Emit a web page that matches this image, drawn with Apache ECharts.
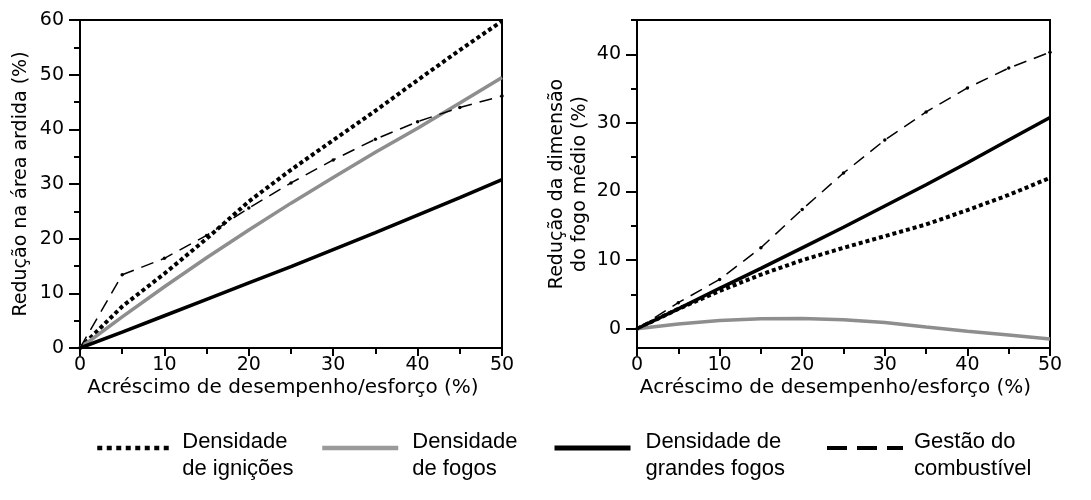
<!DOCTYPE html>
<html>
<head>
<meta charset="utf-8">
<script src="https://cdn.jsdelivr.net/npm/echarts@6/dist/echarts.min.js"></script>
<style>html,body{margin:0;padding:0;background:#fff}#c{width:1091px;height:500px}</style>
</head>
<body>
<div id="c"></div>
<script>
const xValues = [0, 5, 10, 15, 20, 25, 30, 35, 40, 45, 50];
const seriesNames = ['Densidade\nde ignições', 'Densidade\nde fogos', 'Densidade de\ngrandes fogos', 'Gestão do\ncombustível'];
const xTickLabels = [0, 10, 20, 30, 40, 50];
const rightYLabels = [0, 10, 20, 30, 40];
const rightYMinor = [5, 15, 25, 35, 45];

// Left panel: Redução na área ardida (%)
const leftIgnicoes = [0, 7.6, 13.6, 20.0, 26.8, 32.6, 38.0, 43.4, 49.0, 54.5, 59.8];
const leftFogos = [0, 5.7, 11.2, 16.5, 21.6, 26.5, 31.2, 35.8, 40.2, 44.8, 49.5];
const leftGrandes = [0, 2.9, 5.9, 8.9, 11.9, 14.9, 18.0, 21.1, 24.3, 27.5, 30.8];
const leftCombust = [0, 13.4, 16.4, 20.6, 25.6, 30.2, 34.4, 38.2, 41.4, 44.0, 46.1];

// Right panel: Redução da dimensão do fogo médio (%)
const rightIgnicoes = [0, 2.9, 5.5, 7.9, 10.0, 11.8, 13.5, 15.2, 17.3, 19.5, 22.0];
const rightFogos = [0, 0.7, 1.2, 1.45, 1.5, 1.3, 0.9, 0.25, -0.35, -0.9, -1.5];
const rightGrandes = [0, 2.9, 5.9, 8.8, 11.8, 14.8, 17.9, 21.0, 24.2, 27.5, 30.8];
const rightCombust = [0, 3.8, 7.2, 11.8, 17.4, 22.7, 27.5, 31.6, 35.1, 38.0, 40.3];

const pair = (ys) => xValues.map((x, i) => [x, ys[i]]);

const AX = 'DejaVu Sans';
const LG = 'Liberation Sans';
const black = '#000';

function xAxis(grid) {
  return {
    type: 'value', gridIndex: grid, min: 0, max: 50, interval: 10,
    axisLine: { onZero: false, lineStyle: { color: black, width: 2 } },
    axisTick: { length: 8, lineStyle: { color: black, width: 2 } },
    minorTick: { show: true, splitNumber: 2, length: 6, lineStyle: { color: black, width: 2 } },
    splitLine: { show: false },
    axisLabel: { color: black, fontSize: 19, fontFamily: AX, margin: 8,
      formatter: (v) => xTickLabels.indexOf(v) >= 0 ? String(v) : '' },
    name: 'Acréscimo de desempenho/esforço (%)', nameLocation: 'middle', nameGap: 30,
    nameMoveOverlap: false,
    nameTextStyle: { color: black, fontSize: 20, fontFamily: AX, padding: [0, 16, 0, 0] }
  };
}

const styles = [
  { color: black, lineStyle: { color: black, width: 4, type: [4, 3], cap: 'butt' }, symbol: 'none' },
  { color: '#8e8e8e', lineStyle: { color: '#8e8e8e', width: 3.5 }, symbol: 'none' },
  { color: black, lineStyle: { color: black, width: 3.5 }, symbol: 'none' },
  { color: black, lineStyle: { color: black, width: 1.5, type: [13, 8] }, symbol: 'circle', symbolSize: 3.5 }
];

function mk(name, idx, data, xi, yi) {
  const s = styles[idx];
  return {
    type: 'line', name: name, xAxisIndex: xi, yAxisIndex: yi, data: pair(data),
    symbol: s.symbol, symbolSize: s.symbolSize || 0, showSymbol: s.symbol !== 'none',
    itemStyle: { color: s.color }, lineStyle: s.lineStyle, animation: false, z: 3 + idx,
    emphasis: { disabled: true }
  };
}

const legendLine = [
  { color: black, width: 4.5, type: [5, 4.5] },
  { color: '#9a9a9a', width: 4.5 },
  { color: black, width: 5 },
  { color: black, width: 4, type: [20, 10] }
];
const legendLeft = [95, 320, 552, 825];
const legendPad = [4, 9, 10, 6];

const legends = seriesNames.map((n, i) => ({
  data: [{ name: n, lineStyle: legendLine[i], itemStyle: { color: 'rgba(0,0,0,0)', borderWidth: 0 } }],
  left: legendLeft[i], top: 420, padding: 0, itemWidth: 76, itemHeight: 14,
  selectedMode: false,
  formatter: (name) => {
    const parts = name.split('\n');
    return '{s| }\n{t|' + parts[0] + '}\n{t|' + parts[1] + '}';
  },
  textStyle: {
    color: black, fontFamily: LG, fontSize: 22,
    rich: {
      s: { fontSize: 2, lineHeight: 14, padding: [0, 0, 0, legendPad[i]] },
      t: { fontSize: 22, lineHeight: 27, fontFamily: LG, color: black, padding: [0, 0, 0, legendPad[i]] }
    }
  }
}));

const option = {
  backgroundColor: '#fff',
  animation: false,
  grid: [
    { left: 80, top: 20, width: 422, height: 328, show: true, borderColor: black, borderWidth: 2, backgroundColor: 'transparent' },
    { left: 637, top: 20, width: 413, height: 328, show: true, borderColor: black, borderWidth: 2, backgroundColor: 'transparent' }
  ],
  legend: legends,
  xAxis: [xAxis(0), xAxis(1)],
  yAxis: [
    {
      type: 'value', gridIndex: 0, min: 0, max: 60, interval: 10,
      axisLine: { show: true, lineStyle: { color: black, width: 2 } },
      axisTick: { show: true, length: 11, lineStyle: { color: black, width: 2 } },
      minorTick: { show: true, splitNumber: 2, length: 6, lineStyle: { color: black, width: 2 } },
      splitLine: { show: false },
      axisLabel: { color: black, fontSize: 19, fontFamily: AX, margin: 16 },
      name: 'Redução na área ardida (%)', nameLocation: 'middle', nameGap: 48, nameMoveOverlap: false,
      nameTextStyle: { color: black, fontSize: 19, fontFamily: AX, lineHeight: 22 }
    },
    {
      type: 'value', gridIndex: 1, min: -2.8, max: 45, position: 'left',
      axisLine: { show: true, onZero: false, lineStyle: { color: black, width: 2 } },
      axisTick: { show: true, length: 11, customValues: rightYLabels, lineStyle: { color: black, width: 2 } },
      splitLine: { show: false },
      axisLabel: { color: black, fontSize: 19, fontFamily: AX, margin: 16, customValues: rightYLabels },
      name: 'Redução da dimensão\ndo fogo médio (%)', nameLocation: 'middle', nameGap: 45, nameMoveOverlap: false,
      nameTextStyle: { color: black, fontSize: 19, fontFamily: AX, lineHeight: 23 }
    },
    {
      type: 'value', gridIndex: 1, min: -2.8, max: 45, position: 'left', offset: 0,
      axisLine: { show: false, onZero: false },
      axisTick: { show: true, length: 6, customValues: rightYMinor, lineStyle: { color: black, width: 2 } },
      splitLine: { show: false },
      axisLabel: { show: false }
    }
  ],
  series: [
    mk(seriesNames[0], 0, leftIgnicoes, 0, 0),
    mk(seriesNames[1], 1, leftFogos, 0, 0),
    mk(seriesNames[2], 2, leftGrandes, 0, 0),
    mk(seriesNames[3], 3, leftCombust, 0, 0),
    mk(seriesNames[0], 0, rightIgnicoes, 1, 1),
    mk(seriesNames[1], 1, rightFogos, 1, 1),
    mk(seriesNames[2], 2, rightGrandes, 1, 1),
    mk(seriesNames[3], 3, rightCombust, 1, 1)
  ]
};

const chart = echarts.init(document.getElementById('c'), null, { renderer: 'canvas' });
chart.setOption(option);
</script>
</body>
</html>
